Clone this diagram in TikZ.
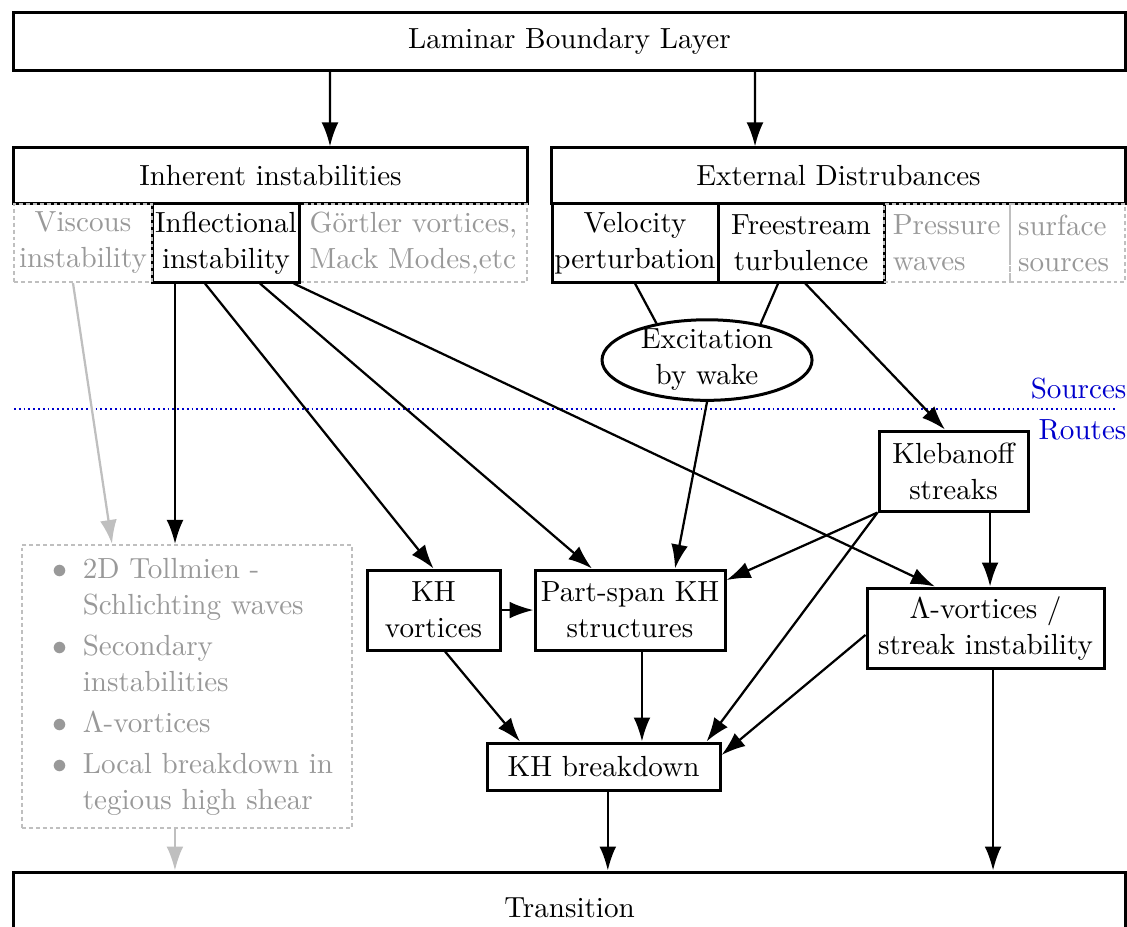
\documentclass[tikz,border=0pt]{standalone}
\usepackage{amsmath}
\usepackage{tikz}
\usetikzlibrary{shapes.geometric}
\usetikzlibrary{arrows.meta}
\tikzset{box/.style={draw=black, line width=1pt, align=center, inner sep=0pt, minimum height=0.937cm}}
\tikzset{subbox/.style={box, minimum height=0.914cm}}
\tikzset{graybox/.style={draw=black!25, line width=0.7pt, dash pattern=on 1.3pt off 1pt, text=black!40, inner sep=0pt, minimum height=0.914cm}}
\tikzset{route/.style={-{Latex[length=8pt,width=5.6pt]}, line width=0.75pt}}
\tikzset{grayroute/.style={route, draw=black!25}}

\begin{document}
\begin{tikzpicture}[font=\fontsize{9.7}{12}\selectfont]
                \useasboundingbox (0,0) rectangle (13.2,-10.846);

                \node[box, minimum width=13.013cm, minimum height=0.668cm] (laminar) at (6.670,-0.486) {Laminar Boundary Layer};
                \node[box, minimum width=6.009cm, minimum height=0.656cm] (inherent) at (3.168,-2.061) {Inherent instabilities};
                \node[box, minimum width=6.712cm, minimum height=0.656cm] (external) at (9.821,-2.061) {External Distrubances};

                \node[graybox, minimum width=2.659cm, align=left] (goertler) at (4.843,-2.846) {G\"ortler vortices,\\Mack Modes,etc};
                \node[subbox, minimum width=1.733cm] (inflect) at (2.647,-2.846) {Inflectional\\instability};
                \node[graybox, minimum width=1.616cm, align=center] (viscous) at (0.972,-2.846) {Viscous\\instability};

                \node[subbox, minimum width=1.944cm] (velocity) at (7.438,-2.846) {Velocity\\perturbation};
                \node[subbox, minimum width=1.944cm] (freestream) at (9.382,-2.846) {Freestream\\turbulence};
                \node[graybox, text width=1.27cm, inner xsep=0.1cm, align=left] (pressure) at (11.092,-2.846) {Pressure\\waves};
                \node[graybox, text width=1.16cm, inner xsep=0.094cm, align=left] (surface) at (12.504,-2.846) {surface\\sources};

                \node[ellipse, draw, line width=1pt, align=center, inner xsep=0pt, inner ysep=-0.8pt, minimum width=2.46cm] (wake) at (8.281,-4.217) {Excitation\\by wake};

                \coordinate (sepleft) at (0.164,-4.79);
                \coordinate (sepright) at (13.06,-4.79);
                \draw[blue!80!black, densely dotted, semithick] (sepleft) -- (sepright);
                \node[text=blue!80!black, anchor=south east, inner xsep=0pt, inner ysep=3pt] (sources) at (13.2,-4.79) {Sources};
                \node[text=blue!80!black, anchor=north east, inner xsep=0pt, inner ysep=3.5pt] (routes) at (13.2,-4.79) {Routes};

                \node[box, minimum width=1.745cm] (kleb) at (11.168,-5.517) {Klebanoff\\streaks};
                \node[box, minimum width=1.558cm] (khv) at (5.078,-7.145) {KH\\vortices};
                \node[box, minimum width=2.225cm] (partspan) at (7.379,-7.145) {Part-span KH\\structures};
                \node[box, minimum width=2.776cm] (lambda) at (11.543,-7.356) {$\Lambda$-vortices /\\streak instability};
                \node[box, minimum width=2.729cm, minimum height=0.551cm] (khb) at (7.069,-8.978) {KH breakdown};

                \node[graybox, minimum width=3.865cm, minimum height=3.315cm] (list) at (2.190,-8.041) {\hspace*{4pt}%
                    \begin{tabular}{@{}l@{\hspace{5pt}}l@{}}
                        $\bullet$ & 2D Tollmien -\\
                                  & Schlichting waves\\[1.7pt]
                        $\bullet$ & Secondary\\
                                  & instabilities\\[1.7pt]
                        $\bullet$ & $\Lambda$-vortices\\[1.7pt]
                        $\bullet$ & Local breakdown in\\
                                  & tegious high shear
                    \end{tabular}};

                \node[box, minimum width=13.013cm, minimum height=0.843cm] (transition) at (6.670,-10.635) {Transition};

                \draw[route] ([xshift=-2.805cm]laminar.south) -- ([xshift=0.697cm]inherent.north);
                \draw[route] ([xshift=2.173cm]laminar.south) -- ([xshift=-0.978cm]external.north);

                \draw[grayroute] ([xshift=-0.117cm]viscous.south) -- ([xshift=-0.878cm]list.north);
                \draw[route] ([xshift=-0.597cm]inflect.south) coordinate (i1) -- (i1 |- list.north);
                \draw[route] ([xshift=-0.246cm]inflect.south) -- (khv.north);
                \draw[route] ([xshift=0.398cm]inflect.south) -- ([xshift=-0.445cm]partspan.north);
                \draw[route] ([xshift=-0.09cm]inflect.south east) -- ([xshift=-0.592cm]lambda.north);

                \draw[line width=0.75pt] (velocity.south) -- (wake.144);
                \draw[line width=0.75pt] ([xshift=-0.269cm]freestream.south) -- (wake.34);
                \draw[route] (wake.south) -- ([xshift=0.527cm]partspan.north);
                \draw[route] ([xshift=0.05cm]freestream.south) -- ([xshift=-0.1cm]kleb.north);

                \draw[route] (kleb.south west) -- ([yshift=0.351cm]partspan.east);
                \draw[route] (kleb.south west) -- ([xshift=-0.176cm]khb.north east);
                \draw[route] ([xshift=0.428cm]kleb.south) coordinate (k1) -- (k1 |- lambda.north);
                \draw[route] ([yshift=-0.08cm]lambda.west) -- ([yshift=0.135cm]khb.east);

                \draw[route] (khv.east) -- (partspan.west);
                \draw[route] ([xshift=0.135cm]khv.south) -- ([xshift=-0.978cm]khb.north);
                \draw[route] ([xshift=0.14cm]partspan.south) coordinate (p1) -- (p1 |- khb.north);

                \draw[route] ([xshift=0.05cm]khb.south) coordinate (b1) -- (b1 |- transition.north);
                \draw[route] ([xshift=0.088cm]lambda.south) coordinate (l1) -- (l1 |- transition.north);
                \draw[grayroute] ([xshift=-0.141cm]list.south) coordinate (t1) -- (t1 |- transition.north);
            \end{tikzpicture}
\end{document}
